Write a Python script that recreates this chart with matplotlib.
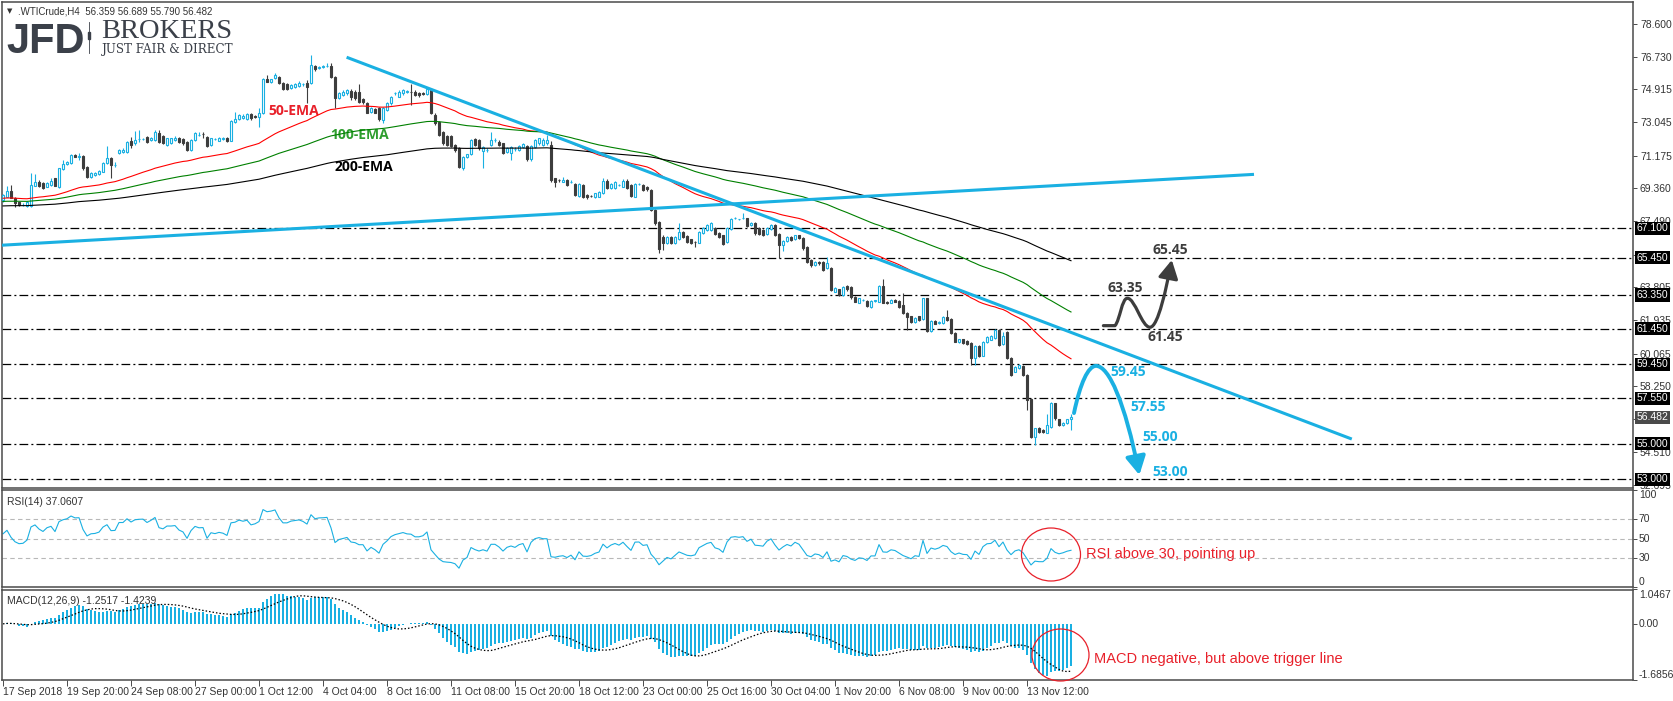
import numpy as np
import pandas as pd
import matplotlib
matplotlib.use('Agg')
import matplotlib.pyplot as plt
import matplotlib.transforms as mtrans
from matplotlib.patches import FancyArrowPatch, Ellipse, Rectangle
from matplotlib.path import Path
from matplotlib.lines import Line2D

# WTI crude, H4 candles, 17 Sep 2018 -> 15 Nov 2018
opens = [
    68.69, 68.88, 69.20, 68.82, 68.55, 68.41, 68.35, 68.35, 69.49, 69.72,
    69.66, 69.44, 69.53, 69.91, 69.44, 70.41, 70.71, 70.75, 71.22, 71.12,
    71.16, 70.56, 70.00, 70.10, 70.15, 70.28, 70.75, 71.03, 70.66, 71.31,
    71.40, 71.41, 72.02, 71.87, 72.10, 72.12, 72.25, 72.06, 72.06, 72.47,
    72.28, 71.78, 71.90, 72.06, 72.20, 72.10, 71.97, 71.50, 72.06, 72.34,
    72.40, 72.25, 71.78, 72.10, 72.02, 72.14, 72.20, 72.02, 73.07, 73.22,
    73.30, 73.26, 73.52, 73.40, 73.38, 73.56, 75.47, 75.32, 75.53, 75.62,
    75.28, 75.20, 74.96, 75.06, 75.10, 75.20, 75.28, 75.24, 76.22, 76.13,
    76.17, 76.20, 76.22, 75.62, 74.40, 74.59, 74.68, 74.83, 74.78, 74.74,
    74.35, 74.12, 73.65, 73.78, 73.84, 73.19, 73.75, 74.12, 74.68, 74.50,
    74.68, 74.78, 74.78, 74.78, 74.72, 74.68, 74.65, 74.87, 73.47, 73.09,
    72.53, 72.29, 72.29, 71.78, 71.59, 70.47, 71.12, 71.27, 72.10, 72.06,
    71.46, 71.50, 71.78, 72.06, 71.97, 71.87, 71.41, 71.31, 71.54, 71.50,
    71.65, 71.72, 70.97, 71.69, 71.87, 71.78, 71.87, 71.80, 69.91, 69.81,
    69.72, 69.81, 69.70, 69.60, 68.91, 69.53, 68.97, 68.91, 68.84, 68.88,
    69.10, 69.78, 69.35, 69.35, 69.53, 69.44, 69.78, 69.53, 68.88, 69.59,
    69.53, 69.44, 69.25, 68.13, 67.47, 66.63, 66.26, 66.59, 66.29, 66.48,
    66.91, 66.67, 66.48, 66.35, 66.29, 66.85, 67.00, 67.00, 67.10, 66.82,
    66.72, 66.35, 67.04, 67.66, 67.60, 67.66, 67.66, 67.29, 67.42, 67.10,
    67.00, 66.78, 67.04, 67.29, 66.78, 66.16, 66.40, 66.59, 66.48, 66.72,
    66.54, 66.07, 65.32, 65.04, 65.23, 65.23, 64.85, 64.85, 63.54, 63.67,
    63.35, 63.86, 63.78, 63.26, 62.92, 63.07, 63.03, 62.70, 63.03, 62.98,
    63.86, 62.98, 62.92, 63.07, 63.03, 62.79, 62.36, 62.17, 61.85, 62.17,
    61.99, 63.16, 61.35, 61.91, 61.80, 61.80, 62.10, 61.99, 61.20, 60.73,
    60.86, 60.79, 60.67, 59.79, 60.49, 59.93, 60.73, 60.82, 60.92, 61.39,
    60.60, 61.29, 59.79, 59.05, 59.23, 59.36, 58.86, 57.49, 55.39, 55.90,
    55.77, 55.62, 55.96, 57.27, 56.37, 56.05, 56.14, 56.359,
]
highs = [
    69.00, 69.45, 69.53, 68.85, 68.60, 68.50, 68.65, 70.19, 70.15, 69.80,
    69.70, 69.72, 69.90, 69.95, 70.50, 70.94, 70.90, 71.30, 71.25, 71.31,
    71.20, 70.60, 70.25, 70.28, 70.40, 70.85, 71.72, 71.10, 70.80, 71.55,
    71.60, 72.00, 72.25, 72.58, 72.60, 72.20, 72.30, 72.25, 72.60, 72.65,
    72.35, 72.20, 72.20, 72.30, 72.25, 72.15, 72.00, 72.10, 72.50, 72.53,
    72.53, 72.30, 72.20, 72.15, 72.25, 72.25, 72.25, 73.20, 73.65, 73.50,
    73.50, 73.60, 73.58, 73.45, 73.84, 75.55, 75.71, 75.50, 75.80, 75.65,
    75.30, 75.25, 75.20, 75.25, 75.35, 75.28, 75.43, 76.84, 76.30, 76.20,
    76.25, 76.37, 76.37, 75.65, 74.75, 74.85, 74.95, 74.90, 74.85, 75.22,
    74.40, 74.20, 73.90, 73.85, 73.90, 73.90, 74.20, 74.55, 74.75, 74.85,
    74.95, 74.85, 75.20, 74.85, 74.75, 74.75, 75.00, 75.00, 73.55, 73.10,
    72.55, 72.35, 72.35, 71.85, 71.65, 71.15, 71.30, 72.10, 72.15, 72.10,
    71.75, 71.60, 72.53, 72.15, 72.05, 71.90, 71.65, 71.75, 71.65, 71.80,
    71.90, 71.80, 71.80, 72.10, 72.20, 72.15, 72.35, 72.00, 69.95, 69.85,
    70.00, 69.85, 69.80, 69.65, 69.65, 69.60, 69.00, 68.95, 69.10, 69.20,
    69.95, 69.85, 69.65, 69.75, 69.60, 69.85, 69.85, 69.60, 69.65, 69.65,
    69.60, 69.50, 69.30, 68.20, 67.50, 66.70, 66.65, 66.65, 66.65, 67.38,
    66.95, 66.70, 66.50, 66.40, 66.95, 67.15, 67.35, 67.45, 67.15, 66.90,
    66.75, 67.15, 67.70, 67.75, 67.65, 67.98, 67.70, 67.45, 67.45, 67.15,
    67.05, 67.15, 67.35, 67.35, 66.85, 66.45, 66.65, 66.65, 66.75, 66.75,
    66.60, 66.10, 65.35, 65.25, 65.25, 65.25, 65.47, 64.90, 63.78, 63.70,
    63.86, 63.90, 63.85, 63.30, 63.20, 63.12, 63.05, 63.07, 63.08, 63.90,
    64.23, 63.00, 63.10, 63.10, 63.05, 63.45, 62.40, 62.20, 62.10, 62.20,
    63.20, 63.20, 61.95, 61.95, 61.90, 62.15, 62.50, 62.05, 61.25, 60.90,
    60.90, 60.82, 60.70, 60.55, 60.55, 60.75, 61.05, 61.10, 61.45, 61.45,
    61.29, 61.35, 59.85, 59.35, 59.50, 59.40, 58.90, 57.55, 55.90, 55.95,
    55.80, 56.67, 57.35, 57.30, 56.40, 56.22, 56.40, 56.689,
]
lows = [
    68.60, 68.85, 68.78, 68.32, 68.35, 68.35, 68.30, 68.30, 69.45, 69.40,
    69.30, 69.40, 69.50, 69.45, 69.35, 70.38, 70.68, 70.70, 71.08, 70.94,
    70.40, 69.95, 69.95, 70.05, 70.10, 70.25, 70.70, 69.91, 70.55, 71.28,
    71.35, 71.35, 71.60, 71.80, 71.97, 72.05, 71.90, 72.00, 72.00, 71.90,
    71.85, 71.75, 71.85, 72.00, 71.90, 71.80, 71.45, 71.45, 72.00, 72.30,
    72.16, 71.65, 71.75, 72.05, 71.98, 72.05, 71.95, 71.98, 73.00, 73.18,
    73.25, 73.20, 73.20, 73.30, 72.81, 73.50, 75.30, 75.28, 75.50, 75.20,
    74.85, 74.85, 74.90, 75.00, 75.05, 75.12, 74.16, 75.20, 75.95, 76.05,
    76.10, 76.15, 75.55, 73.84, 74.35, 74.55, 74.60, 74.30, 74.30, 74.15,
    74.10, 73.55, 73.60, 73.55, 73.10, 73.00, 73.70, 74.05, 74.60, 74.45,
    74.60, 74.70, 74.00, 74.55, 74.50, 74.60, 74.60, 73.50, 72.90, 72.30,
    71.80, 71.70, 71.65, 71.40, 70.47, 70.40, 71.05, 71.20, 71.70, 71.50,
    70.47, 71.40, 71.70, 71.95, 71.70, 71.25, 71.35, 70.94, 71.45, 71.45,
    71.60, 70.90, 70.90, 71.60, 71.80, 71.70, 71.80, 69.70, 69.40, 69.70,
    69.68, 69.50, 69.65, 68.90, 68.85, 68.80, 68.75, 68.85, 68.80, 68.85,
    69.05, 69.30, 69.30, 69.30, 69.45, 69.40, 69.30, 68.85, 68.85, 69.55,
    69.20, 69.20, 68.05, 67.30, 65.74, 65.90, 66.20, 66.20, 66.20, 66.45,
    66.55, 66.30, 66.20, 66.07, 66.25, 66.80, 66.95, 66.95, 66.70, 66.55,
    66.15, 66.30, 67.00, 67.60, 67.55, 67.60, 67.20, 67.25, 66.75, 66.70,
    66.65, 66.75, 67.00, 66.65, 65.41, 65.84, 66.35, 66.40, 66.45, 66.50,
    65.90, 65.15, 64.95, 65.00, 65.05, 64.70, 64.80, 63.55, 63.50, 63.30,
    63.30, 63.60, 63.15, 62.95, 62.90, 63.00, 62.70, 62.65, 62.98, 62.95,
    62.88, 62.85, 62.90, 62.95, 62.60, 62.30, 61.39, 61.80, 61.80, 61.90,
    61.95, 61.30, 61.30, 61.70, 61.75, 61.75, 61.90, 61.15, 60.70, 60.68,
    60.60, 60.55, 59.42, 59.42, 59.85, 59.90, 60.68, 60.80, 60.90, 60.50,
    60.55, 59.75, 58.80, 59.00, 59.20, 58.80, 56.89, 55.30, 54.93, 55.60,
    55.60, 55.60, 55.90, 56.35, 56.00, 56.00, 56.10, 55.790,
]
closes = [
    68.97, 69.20, 68.82, 68.54, 68.41, 68.43, 68.60, 69.53, 69.72, 69.49,
    69.35, 69.66, 69.78, 69.49, 70.47, 70.71, 70.84, 71.22, 71.12, 71.14,
    70.47, 70.00, 70.19, 70.22, 70.33, 70.79, 71.03, 70.66, 70.68, 71.50,
    71.50, 71.97, 71.78, 72.06, 72.12, 72.14, 71.97, 72.20, 72.53, 71.97,
    71.90, 72.16, 72.16, 72.20, 71.97, 71.87, 71.50, 72.06, 72.44, 72.36,
    72.38, 71.72, 72.16, 72.10, 72.20, 72.15, 72.02, 73.15, 73.22, 73.47,
    73.41, 73.52, 73.28, 73.38, 73.60, 75.47, 75.34, 75.47, 75.71, 75.24,
    74.91, 74.91, 75.13, 75.20, 75.28, 75.20, 75.06, 76.27, 76.03, 76.15,
    76.17, 76.22, 75.62, 74.40, 74.68, 74.78, 74.87, 74.46, 74.40, 74.21,
    74.21, 73.60, 73.84, 73.60, 73.22, 73.84, 74.12, 74.50, 74.68, 74.78,
    74.87, 74.78, 74.76, 74.59, 74.59, 74.66, 74.91, 73.56, 73.00, 72.34,
    71.87, 71.78, 71.72, 71.50, 70.56, 71.09, 71.27, 72.06, 71.78, 71.59,
    71.69, 71.52, 72.06, 72.06, 71.78, 71.31, 71.59, 71.69, 71.55, 71.74,
    71.82, 70.97, 71.72, 72.06, 72.16, 72.06, 72.06, 69.81, 69.72, 69.80,
    69.84, 69.55, 69.72, 68.97, 69.59, 68.88, 68.84, 68.90, 69.07, 69.16,
    69.78, 69.35, 69.59, 69.72, 69.55, 69.78, 69.35, 68.91, 69.59, 69.60,
    69.25, 69.30, 68.13, 67.38, 65.95, 66.26, 66.59, 66.29, 66.59, 66.91,
    66.63, 66.35, 66.26, 66.33, 66.91, 67.10, 67.29, 67.38, 66.78, 66.63,
    66.22, 67.10, 67.60, 67.66, 67.60, 67.66, 67.23, 67.42, 66.82, 66.78,
    66.72, 67.10, 67.29, 66.72, 66.16, 66.40, 66.59, 66.44, 66.72, 66.54,
    65.97, 65.23, 65.04, 65.23, 65.13, 64.76, 65.13, 63.63, 63.73, 63.35,
    63.82, 63.67, 63.22, 62.98, 63.16, 63.07, 62.73, 63.03, 63.03, 63.86,
    62.92, 62.88, 63.07, 62.98, 62.66, 62.32, 62.10, 61.85, 62.04, 61.95,
    63.16, 61.35, 61.91, 61.72, 61.85, 62.10, 61.95, 61.20, 60.73, 60.86,
    60.64, 60.60, 59.79, 60.49, 59.93, 60.70, 61.01, 61.05, 61.39, 60.54,
    61.05, 59.79, 58.86, 59.29, 59.42, 58.86, 57.46, 55.39, 55.86, 55.68,
    55.68, 56.05, 57.27, 56.42, 56.05, 56.18, 56.37, 56.482,
]

date_labels = ['17 Sep 2018', '19 Sep 20:00', '24 Sep 08:00', '27 Sep 00:00',
               '1 Oct 12:00', '4 Oct 04:00', '8 Oct 16:00', '11 Oct 08:00',
               '15 Oct 20:00', '18 Oct 12:00', '23 Oct 00:00', '25 Oct 16:00',
               '30 Oct 04:00', '1 Nov 20:00', '6 Nov 08:00', '9 Nov 00:00',
               '13 Nov 12:00']
bars_per_label = 16

price_ticks = [78.600, 76.730, 74.915, 73.045, 71.175, 69.360, 67.490, 65.620,
               63.805, 61.935, 60.065, 58.250, 56.380, 54.510, 52.695]
# these two scale labels sit fully under the level / price boxes
hidden_ticks = [65.620, 56.380]
levels = [67.10, 65.45, 63.35, 61.45, 59.45, 57.55, 55.00, 53.00]

# EMA values at the left edge of the chart (warm-up)
ema_start = {50: 68.78, 100: 68.60, 200: 68.35}
macd_start = 68.85
rsi_levels = [30, 50, 70]
macd_axis = [1.0467, -1.6856]

BLUE = '#1ab0e2'
DARK = '#3d3d3d'
RED = '#e8202a'


def ema(values, span, start):
    alpha = 2.0 / (span + 1)
    out, prev = [], start
    for v in values:
        prev = prev + alpha * (v - prev)
        out.append(prev)
    return np.array(out)


def wilder_rsi(values, first_open, period=14):
    ag, al = 0.1, 0.1
    out, prev = [], first_open
    for v in values:
        d = v - prev
        ag = (ag * (period - 1) + max(d, 0)) / period
        al = (al * (period - 1) + max(-d, 0)) / period
        out.append(100 - 100 / (1 + ag / al))
        prev = v
    return np.array(out)


o = np.array(opens)
h = np.array(highs)
l = np.array(lows)
c = np.array(closes)
x = np.arange(len(c))

ema50 = ema(c, 50, ema_start[50])
ema100 = ema(c, 100, ema_start[100])
ema200 = ema(c, 200, ema_start[200])
macd = ema(c, 12, macd_start) - ema(c, 26, macd_start)
signal = pd.Series(macd).rolling(9, min_periods=1).mean().values
rsi = wilder_rsi(c, o[0])

W, H = 1674, 701
fig = plt.figure(figsize=(W / 100, H / 100), dpi=100)
plt.rcParams['font.family'] = ['Liberation Sans', 'DejaVu Sans']
AXFS = 7.5


def fbox(left, top, right, bottom):
    return [left / W, 1 - bottom / H, (right - left) / W, (bottom - top) / H]


ax = fig.add_axes(fbox(2, 2, 1633, 487.5))
ax_rsi = fig.add_axes(fbox(2, 490, 1633, 587))
ax_macd = fig.add_axes(fbox(2, 589.5, 1633, 680))

for a in (ax, ax_rsi, ax_macd):
    a.set_xlim(-0.25, 407.5)
    for s in a.spines.values():
        s.set_color('#4a4a4a')
        s.set_linewidth(1.1)
    a.yaxis.tick_right()
    a.tick_params(axis='y', direction='out', length=3, width=0.7, pad=2,
                  labelsize=AXFS, colors='#4a4a4a', labelcolor='#333333')
    a.tick_params(axis='x', bottom=False, labelbottom=False)

# ---- main price panel
ax.set_ylim(52.538, 79.813)
ax.set_yticks(price_ticks)
ax.set_yticklabels(['' if v in hidden_ticks else '%.3f' % v for v in price_ticks])

for lv in levels:
    ax.axhline(lv, color='black', lw=0.9, ls=(0, (7, 2.5, 1.6, 2.5)), zorder=1)

bull = c >= o
ax.vlines(x[bull], l[bull], h[bull], color=BLUE, lw=0.8, zorder=2)
ax.vlines(x[~bull], l[~bull], h[~bull], color=DARK, lw=0.8, zorder=2)
body = np.maximum(np.abs(c - o), 0.02)
bottom = np.minimum(o, c)
ax.bar(x[bull], body[bull], bottom=bottom[bull], width=0.5, facecolor='white',
       edgecolor=BLUE, linewidth=0.8, zorder=3)
ax.bar(x[~bull], body[~bull], bottom=bottom[~bull], width=0.5, facecolor=DARK,
       edgecolor=DARK, linewidth=0.8, zorder=3)

ax.plot(x, ema50, color='#ff0000', lw=0.8, zorder=4)
ax.plot(x, ema100, color='#008000', lw=0.8, zorder=4)
ax.plot(x, ema200, color='black', lw=0.8, zorder=4)

# trend lines
ax.plot([85.9, 337.2], [76.71, 55.26], color=BLUE, lw=2.2, zorder=5,
        solid_capstyle='butt')
ax.plot([-0.25, 312.75], [66.15, 70.13], color=BLUE, lw=2.2, zorder=5,
        solid_capstyle='butt')

ema_font = dict(fontsize=10, fontweight='bold', family='Open Sans', va='center', ha='center')
ax.text(72.75, 73.7, '50-EMA', color=RED, **ema_font)
ax.text(89.25, 72.35, '100-EMA', color='#2f9e2f', **ema_font)
ax.text(90.25, 70.52, '200-EMA', color='black', **ema_font)

# scenario arrows
M, L4, C4 = Path.MOVETO, Path.LINETO, Path.CURVE4
up_path = Path([(275.1, 61.63), (278.0, 61.63),
                (279.25, 61.95), (279.7, 63.17), (281.1, 63.17),
                (283.0, 63.17), (284.7, 61.54), (286.75, 61.54),
                (288.8, 61.54), (290.9, 63.82), (292.2, 65.32)],
               [M, L4, C4, C4, C4, C4, C4, C4, C4, C4, C4])
ax.add_patch(FancyArrowPatch(path=up_path, arrowstyle='-|>,head_length=0.55,head_width=0.3',
                             mutation_scale=20, color=DARK, lw=2.3, zorder=6))
down_path = Path([(267.75, 56.72), (269.3, 58.4), (271.3, 59.37), (273.25, 59.37),
                  (276.5, 59.37), (280.5, 57.3), (284.1, 53.24)],
                 [M, C4, C4, C4, C4, C4, C4])
ax.add_patch(FancyArrowPatch(path=down_path, arrowstyle='-|>,head_length=0.55,head_width=0.3',
                             mutation_scale=20, color=BLUE, lw=2.8, zorder=6))

lab_font = dict(fontsize=10, fontweight='bold', family='Open Sans', va='center', ha='center', zorder=7)
ax.text(280.5, 63.74, '63.35', color=DARK, **lab_font)
ax.text(291.75, 65.88, '65.45', color=DARK, **lab_font)
ax.text(290.5, 60.99, '61.45', color=DARK, **lab_font)
ax.text(281.25, 59.03, '59.45', color=BLUE, **lab_font)
ax.text(286.25, 57.06, '57.55', color=BLUE, **lab_font)
ax.text(289.25, 55.38, '55.00', color=BLUE, **lab_font)
ax.text(291.75, 53.41, '53.00', color=BLUE, **lab_font)

# price boxes on the right axis
tr = mtrans.blended_transform_factory(ax.transAxes, ax.transData)
for lv in levels:
    ax.text(1.0022, lv, '%.3f' % lv, transform=tr, color='white', fontsize=AXFS,
            va='center', ha='left', clip_on=False, zorder=10,
            bbox=dict(boxstyle='square,pad=0.15', fc='black', ec='none'))
ax.text(1.0022, c[-1], '%.3f' % c[-1], transform=tr, color='white', fontsize=AXFS,
        va='center', ha='left', clip_on=False, zorder=10,
        bbox=dict(boxstyle='square,pad=0.15', fc='#4a4a4a', ec='none'))

# ---- RSI panel
ax_rsi.set_ylim(0, 100)
for lv in rsi_levels:
    ax_rsi.axhline(lv, color='#b8b8b8', lw=0.8, ls=(0, (4, 3)))
ax_rsi.plot(x, rsi, color=BLUE, lw=0.8)
ax_rsi.set_yticks([0, 30, 50, 70, 100])
ax_rsi.set_yticklabels([])
tr_r = mtrans.blended_transform_factory(ax_rsi.transAxes, ax_rsi.transData)
for v, va in [(100, 'top'), (70, 'center'), (50, 'center'), (30, 'center'), (0, 'bottom')]:
    ax_rsi.text(1.0035, v, str(v), transform=tr_r, fontsize=AXFS, color='#333333',
                va=va, ha='left', clip_on=False)
ax_rsi.text(0.003, 0.93, 'RSI(14) 37.0607', transform=ax_rsi.transAxes,
            fontsize=AXFS, color='#333333', va='top')

# ---- MACD panel
ax_macd.set_ylim(macd_axis[1], macd_axis[0])
ax_macd.bar(x, macd, width=0.35, color=BLUE, linewidth=0)
ax_macd.plot(x, signal, color='black', lw=0.9, ls=(0, (1.2, 1.6)))
ax_macd.set_yticks([macd_axis[0], 0, macd_axis[1]])
ax_macd.set_yticklabels([])
tr_m = mtrans.blended_transform_factory(ax_macd.transAxes, ax_macd.transData)
ax_macd.text(1.0035, macd_axis[0], '%.4f' % macd_axis[0], transform=tr_m, fontsize=AXFS,
             color='#333333', va='top', ha='left', clip_on=False)
ax_macd.text(1.0035, 0, '0.00', transform=tr_m, fontsize=AXFS, color='#333333',
             va='center', ha='left', clip_on=False)
ax_macd.text(1.0035, macd_axis[1], '%.4f' % macd_axis[1], transform=tr_m, fontsize=AXFS,
             color='#333333', va='bottom', ha='left', clip_on=False)
ax_macd.text(0.003, 0.93, 'MACD(12,26,9) -1.2517 -1.4239', transform=ax_macd.transAxes,
             fontsize=AXFS, color='#333333', va='top')

ax_macd.set_xticks(np.arange(len(date_labels)) * bars_per_label)
ax_macd.set_xticklabels(date_labels, ha='left')
ax_macd.tick_params(axis='x', bottom=True, labelbottom=True, direction='out',
                    length=4, width=0.7, pad=1, labelsize=AXFS, colors='#4a4a4a',
                    labelcolor='#333333')


# ---- header and logo
def fx(px):
    return px / W


def fy(py):
    return 1 - py / H


fig.text(fx(7), fy(11), '\u25bc', fontsize=5, color='#333333', va='center',
         family='DejaVu Sans')
fig.text(fx(18), fy(11), '.WTICrude,H4  56.359 56.689 55.790 56.482', fontsize=7,
         color='#333333', va='center')
fig.text(fx(6), fy(53), 'JFD', fontsize=30, fontweight='bold', color='#3b4049',
         va='baseline')
fig.add_artist(Line2D([fx(89), fx(89)], [fy(22), fy(53)], color='#3b4049', lw=0.6))
fig.add_artist(Rectangle((fx(88), fy(39)), 2 / W, 7 / H, color='#3b4049',
                         transform=fig.transFigure))
fig.text(fx(101), fy(38), 'BROKERS', fontsize=20.5, family='Liberation Serif',
         color='#3b4049', va='baseline')
fig.text(fx(102), fy(53.5), 'JUST FAIR & DIRECT', fontsize=8.6,
         family='DejaVu Serif', color='#3b4049', va='baseline')

# ---- commentary
fig.add_artist(Ellipse((fx(1051), fy(554.5)), 59 / W, 53 / H, fill=False,
                       edgecolor=RED, lw=0.9, transform=fig.transFigure))
fig.add_artist(Ellipse((fx(1060.5), fy(655)), 57 / W, 52 / H, fill=False,
                       edgecolor=RED, lw=0.9, transform=fig.transFigure))
fig.text(fx(1086), fy(554), 'RSI above 30, pointing up', color=RED, fontsize=10.5,
         va='center')
fig.text(fx(1094), fy(659), 'MACD negative, but above trigger line', color=RED,
         fontsize=10.5, va='center')

fig.savefig('out.png', dpi=100)
